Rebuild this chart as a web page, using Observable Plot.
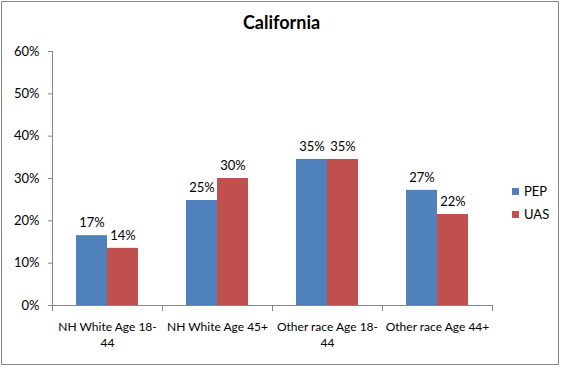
<!DOCTYPE html>
<html>
<head>
<meta charset="utf-8">
<script src="https://cdn.jsdelivr.net/npm/d3@7"></script>
<script src="https://cdn.jsdelivr.net/npm/@observablehq/plot@0.6"></script>
<style>
  body { margin: 0; background: #fff; }
  #wrap { position: relative; width: 563px; height: 368px; overflow: hidden; font-family: Lato, "DejaVu Sans", sans-serif; }
  #border { position: absolute; left: 1px; top: 1px; width: 556px; height: 362px; border: 1px solid #868686; }
  #title { position: absolute; left: 0; top: 11px; width: 563px; text-align: center; font: bold 18px Lato, sans-serif; color: #000; }
  #chart { position: absolute; left: 0; top: 0; }
  #legend { position: absolute; left: 512px; top: 183px; }
  #legend .lg, #legend .lg * { font-family: Lato, sans-serif !important; font-size: 13px !important; color: #000 !important; line-height: 16px !important; }
  #legend .lg-swatch { padding-bottom: 7px !important; margin: 0 !important; }
  #legend .lg-swatch svg { margin-right: 5px !important; }
</style>
</head>
<body>
<div id="wrap">
  <div id="border"></div>
  <div id="chart"></div>
  <div id="title">California</div>
  <div id="legend"></div>
</div>
<script>
const categories = ["NH White Age 18-44", "NH White Age 45+", "Other race Age 18-44", "Other race Age 44+"];
const series = ["PEP", "UAS"];
const pepValues = [16.5, 24.8, 34.5, 27.2];
const uasValues = [13.5, 30.0, 34.5, 21.5];
const yTicks = [0, 10, 20, 30, 40, 50, 60];
const colors = ["#4F81BD", "#C0504D"];

const data = [];
categories.forEach((c, i) => {
  data.push({category: c, series: "PEP", value: pepValues[i]});
  data.push({category: c, series: "UAS", value: uasValues[i]});
});

const W = 563, H = 368;
const mL = 52, mR = 71, mT = 51, mB = 63;
const plotH = H - mT - mB;
const gray = "#868686";
const tickLen = 5;

const plot = Plot.plot({
  width: W,
  height: H,
  marginLeft: mL,
  marginRight: mR,
  marginTop: mT,
  marginBottom: mB,
  style: {fontFamily: "Lato, sans-serif", fontSize: "13px", color: "#000", background: "transparent"},
  fx: {domain: categories, padding: 0, axis: null},
  x: {domain: series, paddingInner: 0, paddingOuter: 0.75, axis: null},
  y: {domain: [0, 60], axis: null},
  color: {domain: series, range: colors},
  marks: [
    Plot.barY(data, {fx: "category", x: "series", y: "value", fill: "series"}),
    Plot.text(data, {fx: "category", x: "series", y: "value", text: d => Math.round(d.value) + "%", dy: -13, fill: "#000"}),
    Plot.ruleY([0], {stroke: gray}),
    Plot.frame({anchor: "left", facetAnchor: "left", stroke: gray}),
    Plot.frame({anchor: "left", stroke: gray, insetTop: plotH, insetBottom: -tickLen}),
    Plot.frame({anchor: "right", facetAnchor: "right", stroke: gray, insetTop: plotH, insetBottom: -tickLen}),
    Plot.axisY({ticks: yTicks, tickSize: 4, tickPadding: 9, tickFormat: d => d + "%", stroke: gray, fill: "#000", label: null}),
    Plot.axisFx({anchor: "bottom", tickSize: 0, tickPadding: 14, tickFormat: d => d.replace("18-44", "18-\n44"), fill: "#000", label: null, fontSize: 12, lineHeight: 1.33})
  ]
});
document.getElementById("chart").appendChild(plot);
const leg = plot.legend("color", {columns: 1, swatchSize: 7, className: "lg", style: {fontSize: "13px", fontFamily: "Lato, sans-serif"}});
document.getElementById("legend").appendChild(leg);
</script>
</body>
</html>
